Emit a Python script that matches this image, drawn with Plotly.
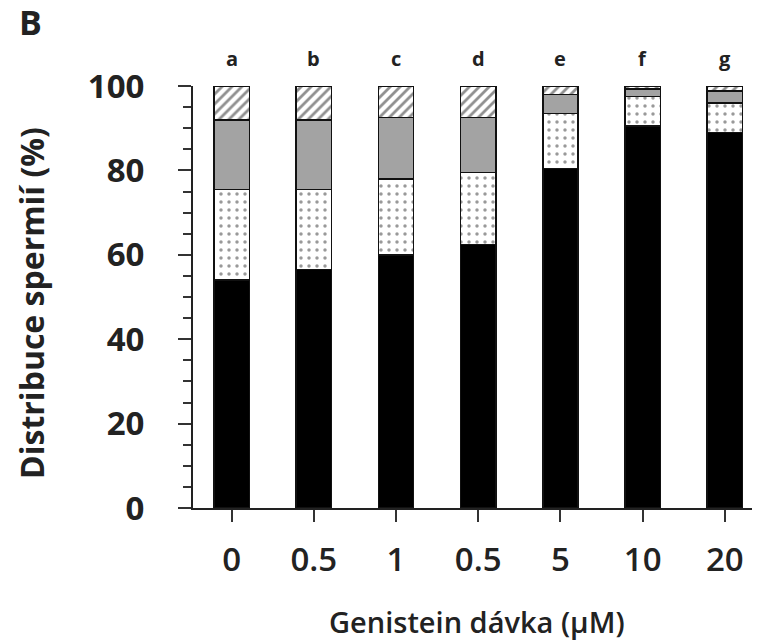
import plotly.graph_objects as go

categories = ["0", "0.5", "1", "0.5", "5", "10", "20"]
letters = ["a", "b", "c", "d", "e", "f", "g"]
black_vals = [54, 56.5, 60, 62.5, 80.5, 90.5, 89]
dotted_vals = [21.5, 19, 18, 17, 13, 7, 7]
gray_vals = [16.5, 16.5, 14.5, 13, 4.5, 1.8, 2.8]
hatched_vals = [8, 8, 7.5, 7.5, 2, 0.7, 1.2]

xpos = list(range(len(categories)))

fig = go.Figure()
line = dict(color="#111", width=1.5)
W = 0.43
fig.add_bar(x=xpos, y=black_vals, width=W, marker=dict(color="black", line=line))
fig.add_bar(x=xpos, y=dotted_vals, width=W,
            marker=dict(color="white", line=line,
                        pattern=dict(shape=".", fgcolor="#333", bgcolor="white", size=8, solidity=0.15)))
fig.add_bar(x=xpos, y=gray_vals, width=W, marker=dict(color="#a3a3a3", line=line))
fig.add_bar(x=xpos, y=hatched_vals, width=W,
            marker=dict(color="white", line=line,
                        pattern=dict(shape="/", fgcolor="#222", bgcolor="white", size=7, solidity=0.4)))

for xp, l in zip(xpos, letters):
    fig.add_annotation(x=xp, y=100, yref="y", text="<b>%s</b>" % l, showarrow=False,
                       yshift=28, font=dict(family="Open Sans", size=20, color="#222"))

fig.add_annotation(x=-0.315, y=1.21, xref="paper", yref="paper", text="<b>B</b>", showarrow=False,
                   xanchor="left", yanchor="top", font=dict(family="Open Sans", size=34, color="#222"))

fig.add_annotation(x=-0.288, y=0.486, xref="paper", yref="paper", text="<b>Distribuce spermií (%)</b>",
                   showarrow=False, textangle=-90, xanchor="center", yanchor="middle",
                   font=dict(family="Open Sans", size=32, color="#222"))

fig.add_annotation(x=0.508, y=-0.27, xref="paper", yref="paper", text="Genistein dávka (µM)",
                   showarrow=False, xanchor="center", yanchor="middle",
                   font=dict(family="Open Sans", size=29, weight=600, color="#222"))

fig.update_layout(
    barmode="stack", showlegend=False, width=757, height=643,
    plot_bgcolor="white", paper_bgcolor="white",
    margin=dict(l=193, r=5, t=86, b=135),
    xaxis=dict(range=[-0.47, 6.33], showline=True, linecolor="#222", linewidth=2,
               showgrid=False, zeroline=False,
               tickvals=xpos, ticktext=categories,
               ticks="outside", ticklen=12, tickwidth=2, tickcolor="#333",
               tickfont=dict(family="Open Sans", size=33, weight=600, color="#222"),
               ticklabelstandoff=9),
    yaxis=dict(range=[0, 100], showline=True, linecolor="#222", linewidth=2, showgrid=False,
               zeroline=False, tickvals=[0, 20, 40, 60, 80, 100],
               ticktext=["<b>%d</b>" % v for v in [0, 20, 40, 60, 80, 100]],
               ticks="outside", ticklen=13, tickwidth=2, tickcolor="#333",
               minor=dict(dtick=5, ticks="outside", ticklen=8, tickwidth=1.5, tickcolor="#333"),
               tickfont=dict(family="Open Sans", size=33, color="#222"),
               ticklabelstandoff=27),
)

fig.write_html("out.html")
